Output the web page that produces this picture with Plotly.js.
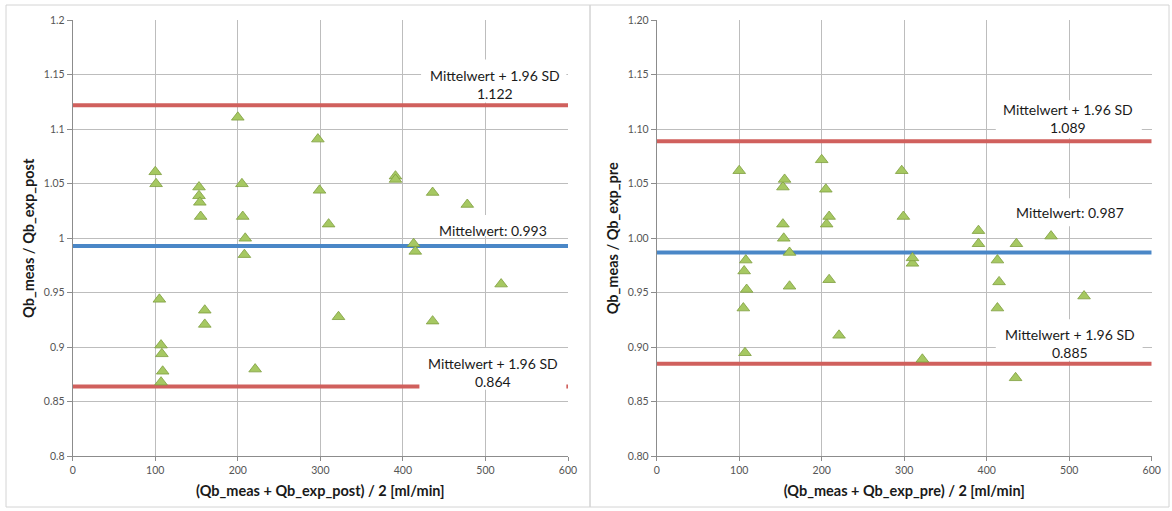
<!DOCTYPE html>
<html>
<head>
<meta charset="utf-8">
<script src="https://cdn.plot.ly/plotly-3.0.1.min.js"></script>
<style>
  html, body { margin: 0; padding: 0; background: #ffffff; }
  #chart { width: 1172px; height: 511px; }
</style>
</head>
<body>
<div id="chart"></div>
<script>
// Bland-Altman style comparison: measured vs. expected blood flow (post / pre)
const postMean = [100, 101, 105, 107, 107, 108, 109, 153, 153, 154, 155, 160, 160, 200, 205, 206, 209, 208, 221, 297, 299, 310, 322, 391, 391, 413, 415, 436, 436, 478, 519];
const postRatio = [1.061, 1.050, 0.944, 0.868, 0.902, 0.894, 0.878, 1.047, 1.039, 1.033, 1.020, 0.934, 0.921, 1.111, 1.050, 1.020, 1.000, 0.985, 0.880, 1.091, 1.044, 1.013, 0.928, 1.057, 1.054, 0.995, 0.988, 1.042, 0.924, 1.031, 0.958];

const preMean = [100, 105, 106, 107, 108, 109, 153, 153, 154, 155, 161, 161, 200, 205, 206, 209, 209, 221, 297, 299, 310, 310, 322, 390, 390, 413, 413, 415, 436, 435, 478, 518];
const preRatio = [1.062, 0.936, 0.970, 0.895, 0.980, 0.953, 1.047, 1.013, 1.000, 1.054, 0.987, 0.956, 1.072, 1.045, 1.013, 1.020, 0.962, 0.911, 1.062, 1.020, 0.977, 0.982, 0.889, 1.007, 0.995, 0.936, 0.980, 0.960, 0.995, 0.872, 1.002, 0.947];

// Mean and limits of agreement (mean ± 1.96 SD)
const postStats = { mean: 0.993, upper: 1.122, lower: 0.864 };
const preStats = { mean: 0.987, upper: 1.089, lower: 0.885 };

const xRange = [0, 600];
const xTicks = [0, 100, 200, 300, 400, 500, 600];
const yTicks = [0.8, 0.85, 0.9, 0.95, 1, 1.05, 1.1, 1.15, 1.2];
const yTickTextPost = ['0.8', '0.85', '0.9', '0.95', '1', '1.05', '1.1', '1.15', '1.2'];
const yTickTextPre = ['0.80', '0.85', '0.90', '0.95', '1.00', '1.05', '1.10', '1.15', '1.20'];

const W = 1172, H = 511;
const px = v => v / W;
const py = v => 1 - v / H;

const RED = '#d0605d';
const BLUE = '#4a87c7';
const FONT = 'Lato, "Open Sans", sans-serif';

function hline(xa, ya, yv, color) {
  return {
    x: xRange, y: [yv, yv], xaxis: xa, yaxis: ya,
    mode: 'lines', line: { color: color, width: 4 },
    hoverinfo: 'skip', showlegend: false
  };
}

function points(xs, ys, xa, ya) {
  return {
    x: xs, y: ys, xaxis: xa, yaxis: ya, mode: 'markers', type: 'scatter',
    marker: { symbol: 'triangle-up', size: 11, color: '#a6c862', line: { color: '#7f9e3f', width: 0.8 } },
    showlegend: false
  };
}

const traces = [
  hline('x', 'y', postStats.upper, RED),
  hline('x', 'y', postStats.mean, BLUE),
  hline('x', 'y', postStats.lower, RED),
  points(postMean, postRatio, 'x', 'y'),
  hline('x2', 'y2', preStats.upper, RED),
  hline('x2', 'y2', preStats.mean, BLUE),
  hline('x2', 'y2', preStats.lower, RED),
  points(preMean, preRatio, 'x2', 'y2')
];

function xAxis(domain, anchor, title) {
  return {
    domain: domain, anchor: anchor, range: xRange, tickvals: xTicks,
    showgrid: true, gridcolor: '#bdbdbd', gridwidth: 1,
    showline: true, linecolor: '#8c8c8c', linewidth: 1, mirror: false,
    ticks: 'outside', ticklen: 4, tickcolor: '#8c8c8c',
    zeroline: false, fixedrange: true,
    tickfont: { family: FONT, size: 10.5, color: '#555555' },
    title: { text: title, font: { family: FONT, size: 14.5, color: '#1a1a1a', weight: 'bold' }, standoff: 10 },
    automargin: false
  };
}

function yAxis(anchor, tickText, title) {
  return {
    domain: [py(456.3), py(20.3)], anchor: anchor, range: [0.8, 1.2],
    tickvals: yTicks, ticktext: tickText,
    showgrid: true, gridcolor: '#bdbdbd', gridwidth: 1,
    showline: true, linecolor: '#8c8c8c', linewidth: 1,
    ticks: 'outside', ticklen: 5, tickcolor: '#8c8c8c',
    zeroline: false, fixedrange: true,
    tickfont: { family: FONT, size: 10.5, color: '#555555' },
    title: { text: title, font: { family: FONT, size: 14.5, color: '#1a1a1a', weight: 'bold' } },
    automargin: false
  };
}

// White label boxes that hide grid and lines behind the annotation text
function box(xa, ya, x0, x1, y0, y1) {
  return {
    type: 'rect', xref: xa, yref: ya, x0: x0, x1: x1, y0: y0, y1: y1,
    fillcolor: '#ffffff', line: { width: 0 }, layer: 'above'
  };
}

function label(xa, ya, x, y, text) {
  return {
    xref: xa, yref: ya, x: x, y: y, text: text, showarrow: false,
    xanchor: 'center', yanchor: 'middle', align: 'center',
    font: { family: FONT, size: 14, color: '#1a1a1a' }
  };
}

function frame(x0, x1) {
  return {
    type: 'rect', xref: 'paper', yref: 'paper',
    x0: px(x0), x1: px(x1), y0: py(507), y1: py(5),
    fillcolor: 'rgba(0,0,0,0)', line: { color: '#d4d4d4', width: 1 }, layer: 'below'
  };
}

const fmt = v => v.toFixed(3);

const layout = {
  width: W, height: H,
  margin: { l: 0, r: 0, t: 0, b: 0 },
  paper_bgcolor: '#ffffff', plot_bgcolor: '#ffffff',
  showlegend: false,
  xaxis: xAxis([px(72.7), px(568)], 'y', '(Qb_meas + Qb_exp_post) / 2 [ml/min]'),
  yaxis: yAxis('x', yTickTextPost, 'Qb_meas / Qb_exp_post'),
  xaxis2: xAxis([px(656.7), px(1151.7)], 'y2', '(Qb_meas + Qb_exp_pre) / 2 [ml/min]'),
  yaxis2: yAxis('x2', yTickTextPre, 'Qb_meas / Qb_exp_pre'),
  shapes: [
    frame(6, 590),
    frame(590, 1169),
    box('x', 'y', 422, 598, 1.1245, 1.164),
    box('x', 'y', 421, 598, 1.0021, 1.0214),
    box('x', 'y', 420, 598, 0.861, 0.8994),
    box('x2', 'y2', 411, 588, 1.0917, 1.1266),
    box('x2', 'y2', 422, 580, 1.011, 1.0367),
    box('x2', 'y2', 411, 589, 0.8876, 0.9257)
  ],
  annotations: [
    label('x', 'y', 512, 1.1409, 'Mittelwert + 1.96 SD<br>' + fmt(postStats.upper)),
    label('x', 'y', 509.5, 1.0076, 'Mittelwert: ' + fmt(postStats.mean)),
    label('x', 'y', 509.5, 0.8772, 'Mittelwert + 1.96 SD<br>' + fmt(postStats.lower)),
    label('x2', 'y2', 498.5, 1.1101, 'Mittelwert + 1.96 SD<br>' + fmt(preStats.upper)),
    label('x2', 'y2', 500.6, 1.0241, 'Mittelwert: ' + fmt(preStats.mean)),
    label('x2', 'y2', 501, 0.9037, 'Mittelwert + 1.96 SD<br>' + fmt(preStats.lower))
  ]
};

Plotly.newPlot('chart', traces, layout, { displayModeBar: false, staticPlot: true });
</script>
</body>
</html>
